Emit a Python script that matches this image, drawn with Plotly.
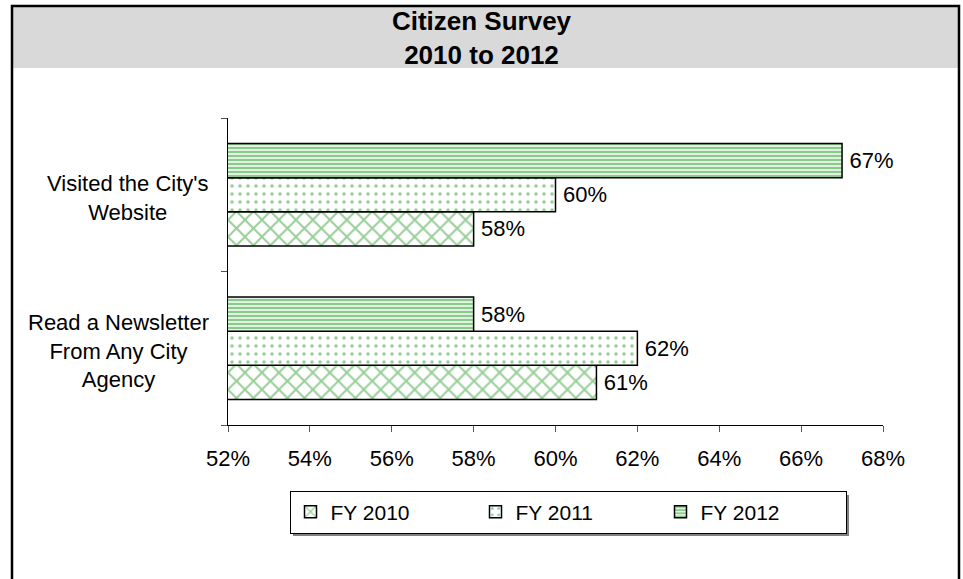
import plotly.graph_objects as go

# Survey data (percent of respondents)
categories = ["Visited the City's<br>Website", "Read a Newsletter<br>From Any City<br>Agency"]
years = ["FY 2010", "FY 2011", "FY 2012"]
fy2010 = [58, 61]
fy2011 = [60, 62]
fy2012 = [67, 58]
x_ticks = [52, 54, 56, 58, 60, 62, 64, 66, 68]
x_tick_labels = [f"{v}%" for v in x_ticks]

series = [fy2010, fy2011, fy2012]
GREEN = "#2f9e2f"
patterns = [
    dict(shape="x", size=12, solidity=0.3, fgcolor=GREEN, bgcolor="white"),
    dict(shape=".", size=8, solidity=0.16, fgcolor=GREEN, bgcolor="white"),
    dict(shape="-", size=4, solidity=0.55, fgcolor=GREEN, bgcolor="#e8f5e8"),
]

W, H = 963, 579
ML, MR, MT, MB = 228, 80, 118, 154
PW, PH = W - ML - MR, H - MT - MB


def px_x(p):
    return (p - ML) / PW


def px_y(p):
    return (H - MB - p) / PH


FONT = "Arial, Liberation Sans, sans-serif"

fig = go.Figure()
for name, vals, pat in zip(years, series, patterns):
    fig.add_trace(go.Bar(
        y=categories, x=vals, name=name, orientation="h",
        base=0,
        marker=dict(color="white", pattern=pat, line=dict(color="black", width=1.5)),
        text=[f"\u2009{v}%" for v in vals], textposition="outside",
        textfont=dict(size=22, color="black", family=FONT),
        cliponaxis=False,
    ))

# category labels, centred lines
for c in categories:
    fig.add_annotation(x=px_x(211), xref="paper", xanchor="right",
                       y=c, yref="y", yshift=-3, text=c, showarrow=False, align="center",
                       font=dict(size=22, color="black", family=FONT))

shapes = [
    # title band
    dict(type="rect", xref="paper", yref="paper", x0=px_x(13), x1=px_x(958),
         y0=px_y(68), y1=px_y(7), fillcolor="#d9d9d9", line=dict(width=0), layer="below"),
    # outer frame
    dict(type="rect", xref="paper", yref="paper", x0=px_x(12), x1=px_x(959),
         y0=px_y(590), y1=px_y(6), line=dict(color="black", width=2.5), layer="below"),
    # legend drop shadow
    dict(type="rect", xref="paper", yref="paper", x0=px_x(293), x1=px_x(849),
         y0=px_y(536), y1=px_y(495), fillcolor="#808080", line=dict(width=0), layer="below"),
]

fig.update_layout(
    width=W, height=H,
    margin=dict(l=ML, r=MR, t=MT, b=MB),
    paper_bgcolor="white", plot_bgcolor="white",
    barmode="group", bargap=0.333, bargroupgap=0,
    font=dict(family=FONT, size=22, color="black"),
    title=dict(text="<b>Citizen Survey<br>2010 to 2012</b>", x=0.5, xref="container",
               xanchor="center", y=1 - 30 / H, yref="container", yanchor="middle",
               font=dict(size=26, color="black", family=FONT)),
    xaxis=dict(range=[52, 68], tickvals=x_ticks, ticktext=x_tick_labels, showgrid=False,
               zeroline=False, showline=True, linecolor="black", linewidth=1,
               ticks="outside", ticklen=6, tickcolor="#555", ticklabelstandoff=8,
               tickfont=dict(size=22)),
    yaxis=dict(categoryorder="array", categoryarray=categories[::-1],
               range=[-0.5, 1.5], showticklabels=False, showgrid=False, zeroline=False,
               showline=True, linecolor="black", linewidth=1,
               ticks="outside", tickson="boundaries", ticklen=6, tickcolor="#555"),
    legend=dict(orientation="h", x=px_x(568), xanchor="center", y=px_y(512), yanchor="middle",
                bordercolor="black", borderwidth=1, bgcolor="white",
                font=dict(size=21, color="black", family=FONT),
                entrywidth=140, traceorder="normal"),
    shapes=shapes,
)

fig.write_html("out.html")
